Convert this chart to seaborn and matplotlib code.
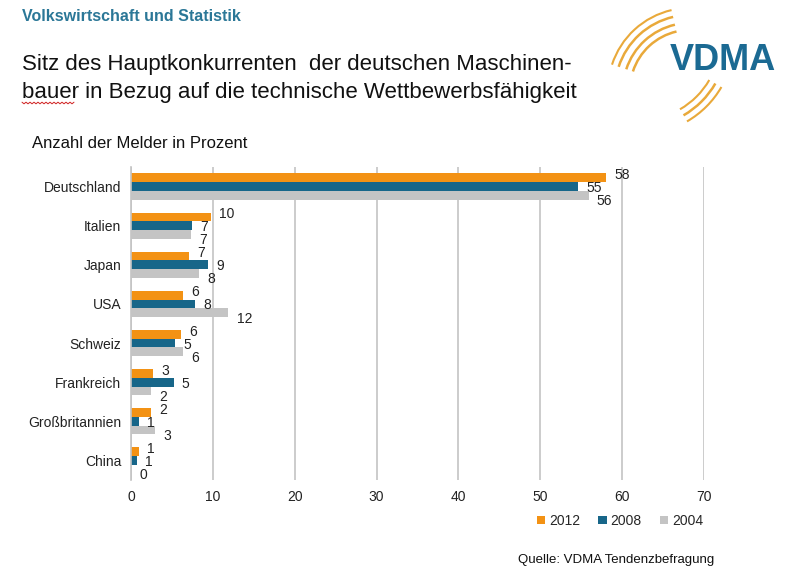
import numpy as np
import pandas as pd
import seaborn as sns
import matplotlib.pyplot as plt
from matplotlib.patches import Arc, Patch

laender = ["Deutschland", "Italien", "Japan", "USA", "Schweiz", "Frankreich", "Großbritannien", "China"]
jahre = ["2012", "2008", "2004"]
# Balkenlängen und angezeigte Werte
w2012 = [58.0, 9.8, 7.1, 6.4, 6.1, 2.7, 2.4, 1.0]
w2008 = [54.6, 7.4, 9.4, 7.8, 5.4, 5.2, 1.0, 0.7]
w2004 = [55.9, 7.3, 8.3, 11.9, 6.3, 2.4, 2.9, 0.0]
l2012 = [58, 10, 7, 6, 6, 3, 2, 1]
l2008 = [55, 7, 9, 8, 5, 5, 1, 1]
l2004 = [56, 7, 8, 12, 6, 2, 3, 0]
xticks = [0, 10, 20, 30, 40, 50, 60, 70]

farben = ["#F39214", "#176689", "#C4C4C4"]

df = pd.DataFrame({
    "land": laender * 3,
    "jahr": [j for j in jahre for _ in laender],
    "wert": w2012 + w2008 + w2004,
})
beschriftung = [l2012, l2008, l2004]

sns.set_theme(style="white")
plt.rcParams["font.family"] = ["Liberation Sans", "DejaVu Sans"]

fig = plt.figure(figsize=(8, 5.8), dpi=100)
ax = fig.add_axes([0.16375, 0.1724, 0.7163, 0.5397])

sns.barplot(data=df, y="land", x="wert", hue="jahr", hue_order=jahre, order=laender,
            orient="h", palette=farben, width=0.67, saturation=1, legend=False,
            linewidth=0, edgecolor="none", ax=ax)

ax.set_xlim(0, 70)
ax.set_ylim(7.5, -0.5)
ax.set_xticks(xticks)
ax.set_xticklabels([str(t) for t in xticks])
ax.set_xlabel("")
ax.set_ylabel("")
ax.xaxis.grid(True, color="#C4C4C4", linewidth=1.2)
ax.set_axisbelow(True)
for s in ["top", "right", "bottom"]:
    ax.spines[s].set_visible(False)
ax.spines["left"].set_color("#C4C4C4")
ax.spines["left"].set_linewidth(1.2)
ax.tick_params(axis="both", length=0, labelsize=10, colors="#222222")
ax.tick_params(axis="x", pad=7)
ax.tick_params(axis="y", pad=7)

dy = [-0.07, 0.04, 0.15]
for i, cont in enumerate(ax.containers):
    for bar, lab in zip(cont, beschriftung[i]):
        yc = bar.get_y() + bar.get_height() / 2
        ax.text(bar.get_width() + 1.0, yc + dy[i], str(lab), ha="left", va="center",
                fontsize=10, color="#222222")

# Kopfzeile und Titel
fig.text(0.028, 0.971, "Volkswirtschaft und Statistik", fontsize=11.5, fontweight="bold",
         color="#2B7797", va="center", family=["Liberation Sans Narrow", "Liberation Sans"])
fig.text(0.028, 0.888, "Sitz des Hauptkonkurrenten  der deutschen Maschinen-", fontsize=16,
         color="#111111", va="center")
fig.text(0.028, 0.840, "bauer in Bezug auf die technische Wettbewerbsfähigkeit", fontsize=16,
         color="#111111", va="center")
fig.text(0.040, 0.753, "Anzahl der Melder in Prozent", fontsize=12, color="#111111", va="center")
fig.text(0.648, 0.034, "Quelle: VDMA Tendenzbefragung", fontsize=9.5, color="#111111", va="center")

# Legende
griffe = [Patch(facecolor=c, edgecolor="none", label=j) for c, j in zip(farben, jahre)]
fig.legend(handles=griffe, loc="center", bbox_to_anchor=(0.775, 0.102), ncol=3, frameon=False,
           fontsize=10, handlelength=0.6, handleheight=0.6, handletextpad=0.3, columnspacing=1.3)

# VDMA Logo
deko = fig.add_axes([0, 0, 1, 1])
deko.set_xlim(0, 800)
deko.set_ylim(0, 580)
deko.axis("off")
deko.patch.set_alpha(0)
for r, lw in [(60, 1.8), (67, 1.8), (75, 1.8), (82, 1.5)]:
    deko.add_patch(Arc((690, 490), 2 * r, 2 * r, theta1=103, theta2=162, color="#E9A93A", lw=lw))
for r, lw in [(80, 1.5), (87, 1.8), (94, 1.5)]:
    deko.add_patch(Arc((640, 540), 2 * r, 2 * r, theta1=-60, theta2=-30, color="#E9A93A", lw=lw))
deko.text(723, 520, "VDMA", fontsize=26, fontweight="bold", color="#1B6A93", ha="center", va="center")
# Rechtschreib-Unterstreichung
zx = np.arange(22, 76, 2)
zy = 477 + np.where(np.arange(len(zx)) % 2 == 0, 0.8, -0.8)
deko.plot(zx, zy, color="#D02020", lw=0.7)

fig.savefig("out.png", dpi=100)
